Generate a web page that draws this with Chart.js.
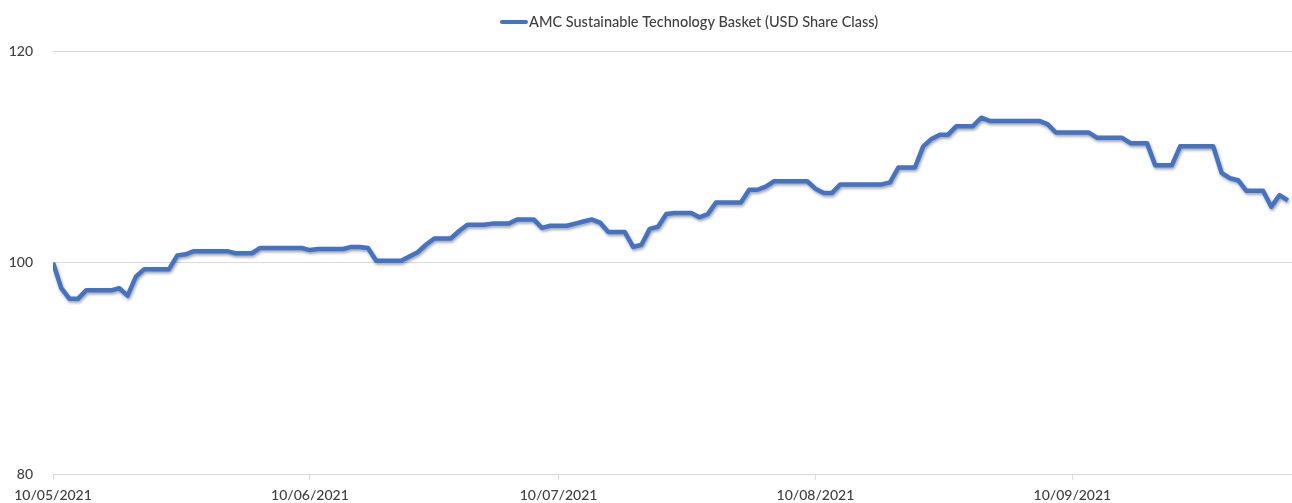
<!DOCTYPE html>
<html>
<head>
<meta charset="utf-8">
<script src="https://cdn.jsdelivr.net/npm/chart.js@4.4.1/dist/chart.umd.min.js"></script>
<style>
    html, body { margin: 0; padding: 0; background: #ffffff; }
    #wrap { position: relative; width: 1292px; height: 503px; }
</style>
</head>
<body>
<div id="wrap"><canvas id="fundChart"></canvas></div>
<script>
// Daily values from 10/05/2021 (day 0) onwards
const seriesName = 'AMC Sustainable Technology Basket (USD Share Class)';
const values = [
    100.0, 97.6, 96.6, 96.6, 97.4, 97.4, 97.4, 97.4, 97.6, 96.9,
    98.7, 99.4, 99.4, 99.4, 99.4, 100.7, 100.8, 101.1, 101.1, 101.1,
    101.1, 101.1, 100.9, 100.9, 100.9, 101.4, 101.4, 101.4, 101.4, 101.4,
    101.4, 101.2, 101.3, 101.3, 101.3, 101.3, 101.5, 101.5, 101.4, 100.2,
    100.2, 100.2, 100.2, 100.6, 101.0, 101.7, 102.3, 102.3, 102.3, 103.0,
    103.6, 103.6, 103.6, 103.7, 103.7, 103.7, 104.1, 104.1, 104.1, 103.3,
    103.5, 103.5, 103.5, 103.7, 103.9, 104.1, 103.8, 102.9, 102.9, 102.9,
    101.5, 101.7, 103.2, 103.4, 104.6, 104.7, 104.7, 104.7, 104.3, 104.6,
    105.7, 105.7, 105.7, 105.7, 106.9, 106.9, 107.2, 107.7, 107.7, 107.7,
    107.7, 107.7, 107.0, 106.6, 106.6, 107.4, 107.4, 107.4, 107.4, 107.4,
    107.4, 107.6, 109.0, 109.0, 109.0, 111.0, 111.7, 112.1, 112.1, 112.9,
    112.9, 112.9, 113.7, 113.4, 113.4, 113.4, 113.4, 113.4, 113.4, 113.4,
    113.1, 112.3, 112.3, 112.3, 112.3, 112.3, 111.8, 111.8, 111.8, 111.8,
    111.3, 111.3, 111.3, 109.2, 109.2, 109.2, 111.0, 111.0, 111.0, 111.0,
    111.0, 108.5, 108.0, 107.8, 106.8, 106.8, 106.8, 105.3, 106.4, 105.9
];
const tickDays = [0, 31, 61, 92, 123];
const tickLabels = ['10/05/2021', '10/06/2021', '10/07/2021', '10/08/2021', '10/09/2021'];
const yTicks = [80, 100, 120];

const lineColor = '#4472C4';
const gridColor = '#d9d9d9';
const textColor = '#3f3f3f';
const fontFamily = 'Lato, "Open Sans", sans-serif';

// soft drop shadow under the line, like the Excel original
const shadowPlugin = {
    id: 'lineShadow',
    beforeDatasetsDraw(chart) {
        const ctx = chart.ctx;
        ctx.save();
        ctx.shadowColor = 'rgba(0, 0, 0, 0.35)';
        ctx.shadowBlur = 3;
        ctx.shadowOffsetX = 1;
        ctx.shadowOffsetY = 2;
    },
    afterDatasetsDraw(chart) {
        chart.ctx.restore();
    }
};

// Excel-style legend: short line swatch right before the label, sitting off-centre
const legendPlugin = {
    id: 'topLegend',
    afterDraw(chart) {
        const ctx = chart.ctx;
        const ds = chart.data.datasets[0];
        const y = 22;
        ctx.save();
        ctx.strokeStyle = ds.borderColor;
        ctx.lineWidth = 4;
        ctx.lineCap = 'round';
        ctx.beginPath();
        ctx.moveTo(502, y);
        ctx.lineTo(526, y);
        ctx.stroke();
        ctx.fillStyle = textColor;
        ctx.font = '500 14.5px ' + fontFamily;
        ctx.textBaseline = 'middle';
        ctx.textAlign = 'left';
        ctx.fillText(ds.label, 529, y);
        ctx.restore();
    }
};

const ctx = document.getElementById('fundChart').getContext('2d');

new Chart(ctx, {
    type: 'line',
    data: {
        datasets: [{
            label: seriesName,
            data: values.map((v, i) => ({ x: i, y: v })),
            borderColor: lineColor,
            backgroundColor: lineColor,
            borderWidth: 4.5,
            borderJoinStyle: 'round',
            pointRadius: 0,
            tension: 0
        }]
    },
    options: {
        responsive: true,
        maintainAspectRatio: false,
        animation: false,
        layout: { padding: { left: 0, right: 0, top: 51, bottom: 0 } },
        plugins: {
            tooltip: { enabled: false },
            legend: { display: false }
        },
        scales: {
            x: {
                type: 'linear',
                min: 0,
                max: 149.5,
                afterBuildTicks(axis) {
                    axis.ticks = tickDays.map(v => ({ value: v }));
                },
                afterFit(axis) {
                    axis.height = 26;
                },
                ticks: {
                    autoSkip: false,
                    maxRotation: 0,
                    padding: 7,
                    font: { family: fontFamily, size: 14, weight: '500' },
                    color: textColor,
                    callback: (value) => {
                        const idx = tickDays.indexOf(value);
                        return idx >= 0 ? tickLabels[idx] : '';
                    }
                },
                grid: {
                    drawOnChartArea: false,
                    drawTicks: true,
                    tickLength: 5,
                    color: gridColor
                },
                border: { display: true, color: gridColor }
            },
            y: {
                min: 80,
                max: 120,
                afterBuildTicks(axis) {
                    axis.ticks = yTicks.map(v => ({ value: v }));
                },
                afterFit(axis) {
                    axis.width = 53;
                },
                ticks: {
                    padding: 20,
                    font: { family: fontFamily, size: 14, weight: '500' },
                    color: textColor
                },
                grid: {
                    color: gridColor,
                    drawTicks: false
                },
                border: { display: false }
            }
        }
    },
    plugins: [shadowPlugin, legendPlugin]
});
</script>
</body>
</html>
